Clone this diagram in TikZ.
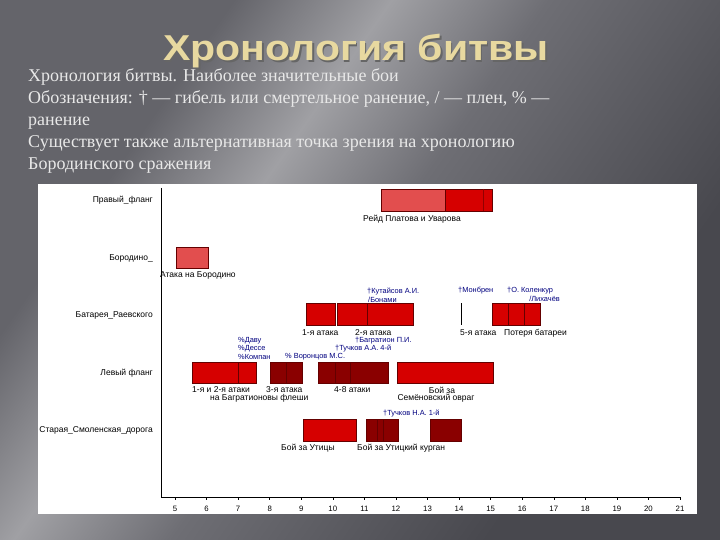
\documentclass[tikz,border=0pt]{standalone}
\usepackage{fontspec}
\setmainfont{Liberation Serif}
\setsansfont{Liberation Sans}
\usepackage{xcolor}
\usepackage{graphicx}
\usetikzlibrary{positioning}

\definecolor{barred}{RGB}{214,0,0}
\definecolor{barlight}{RGB}{226,78,78}
\definecolor{bardark}{RGB}{138,0,0}
\definecolor{baredge}{RGB}{100,0,0}
\definecolor{notecol}{RGB}{0,0,128}
\definecolor{titlegold}{RGB}{232,217,160}
\definecolor{bgA}{RGB}{100,100,106}
\definecolor{bgB}{RGB}{160,160,164}
\definecolor{bgC}{RGB}{110,110,116}
\definecolor{bgD}{RGB}{72,72,78}
\definecolor{headtext}{RGB}{232,232,232}

\pgfdeclarehorizontalshading{slidebg}{100bp}{color(0bp)=(bgA); color(30bp)=(bgA); color(40bp)=(bgB); color(50bp)=(bgC); color(70bp)=(bgD); color(100bp)=(bgD)}

\tikzset{
  barbase/.style={draw=baredge, line width=0.4pt},
  redbar/.style={barbase, fill=barred},
  lightbar/.style={barbase, fill=barlight},
  darkbar/.style={barbase, fill=bardark},
  chartlbl/.style={font=\sffamily\fontsize{8.5}{9.5}\selectfont, inner sep=0pt},
  rowlbl/.style={chartlbl, anchor=east},
  barlbl/.style={chartlbl, anchor=west},
  notelbl/.style={font=\sffamily\fontsize{7.4}{8.5}\selectfont, inner sep=0pt, text=notecol, anchor=west},
  ticklbl/.style={font=\sffamily\fontsize{7.8}{8.5}\selectfont, inner sep=0pt},
  headline/.style={font=\fontsize{18}{21}\selectfont, text=headtext, anchor=base west, inner sep=0pt},
  titletext/.style={font=\sffamily\bfseries\fontsize{36}{40}\selectfont, anchor=base west, inner sep=0pt},
}

\begin{document}
\begin{tikzpicture}[x=1pt, y=-1pt]
    \useasboundingbox (0,0) rectangle (720,540);
    \shade[shading=slidebg, shading angle=-35] (0,0) rectangle (720,540);
    \fill[white] (38,184) rectangle (697,514);

    \node[titletext, text=black!60] (titleshadow) at (164.5,62.5) {\scalebox{1.14}[1]{Хронология битвы}};
    \node[titletext, text=titlegold] (title) at (163,61) {\scalebox{1.14}[1]{Хронология битвы}};
    \node[headline] (h1) at (28,82) {Хронология битвы. Наиболее значительные бои};
    \node[headline] (h2) at (28,104) {Обозначения: † — гибель или смертельное ранение, / — плен, \% —};
    \node[headline] (h3) at (28,126) {ранение};
    \node[headline] (h4) at (28,148) {Существует также альтернативная точка зрения на хронологию};
    \node[headline] (h5) at (28,170) {Бородинского сражения};

    \coordinate (ytop) at (161,188);
    \coordinate (origin) at (161,497);
    \coordinate (xend) at (680,497);
    \draw[line width=0.8pt] (ytop) -- (origin) -- (xend);
    \foreach \h in {5,...,21} {
        \coordinate (tk\h) at ({175+31.5625*(\h-5)},497);
        \draw (tk\h) -- ++(0,3);
        \node[ticklbl] (tl\h) at ({175+31.5625*(\h-5)},509) {\h};
    }

    \node[rowlbl] (rowright) at (153,200) {Правый\_фланг};
    \node[rowlbl] (rowborodino) at (153,258) {Бородино\_};
    \node[rowlbl] (rowbattery) at (153,315) {Батарея\_Раевского};
    \node[rowlbl] (rowleft) at (153,373) {Левый фланг};
    \node[rowlbl] (rowroad) at (153,430) {Старая\_Смоленская\_дорога};

    \draw[lightbar] (381,189) rectangle (445,211);
    \draw[redbar] (445,189) rectangle (492,211);
    \draw[baredge!60!barred] (483,189) -- (483,211);
    \node[chartlbl] (raid) at (412,219) {Рейд Платова и Уварова};

    \draw[lightbar] (176,247) rectangle (208,268);
    \node[barlbl] (attackbor) at (160,275) {Атака на Бородино};

    \draw[redbar] (306,303) rectangle (335,325);
    \draw[redbar] (337,303) rectangle (367,325);
    \draw[redbar] (367,303) rectangle (413,325);
    \draw[line width=0.6pt] (461,303) -- (461,325);
    \draw[redbar] (492,303) rectangle (508,325);
    \draw[redbar] (508,303) rectangle (524,325);
    \draw[redbar] (524,303) rectangle (540,325);
    \node[notelbl] (kutaisov) at (367,292) {†Кутайсов А.И.};
    \node[notelbl] (bonami) at (368,300) {/Бонами};
    \node[notelbl] (monbrun) at (458,291) {†Монбрен};
    \node[notelbl] (caulaincourt) at (507,291) {†О. Коленкур};
    \node[notelbl, anchor=east] (likhachev) at (560,299) {/Лихачёв};
    \node[barlbl] (att1) at (302,333) {1-я атака};
    \node[barlbl] (att2) at (355,333) {2-я атака};
    \node[barlbl] (att5) at (460,333) {5-я атака};
    \node[barlbl] (lossbat) at (504,333) {Потеря батареи};

    \draw[redbar] (192,362) rectangle (238,383);
    \draw[redbar] (238,362) rectangle (256,383);
    \draw[darkbar] (270,362) rectangle (286,383);
    \draw[darkbar] (286,362) rectangle (302,383);
    \draw[darkbar] (318,362) rectangle (335,383);
    \draw[darkbar] (335,362) rectangle (350,383);
    \draw[darkbar] (350,362) rectangle (388,383);
    \draw[redbar] (397,362) rectangle (493,383);
    \node[notelbl] (davout) at (238,341) {\%Даву};
    \node[notelbl] (dessaix) at (238,349) {\%Дессе};
    \node[notelbl] (compans) at (238,357) {\%Компан};
    \node[notelbl] (vorontsov) at (285,357) {\% Воронцов М.С.};
    \node[notelbl] (bagration) at (355,341) {†Багратион П.И.};
    \node[notelbl] (tuchkov4) at (335,349) {†Тучков А.А. 4-й};
    \node[barlbl] (att12) at (192,390) {1-я и 2-я атаки};
    \node[barlbl] (fleches) at (210,398) {на Багратионовы флеши};
    \node[barlbl] (att3) at (266,390) {3-я атака};
    \node[barlbl] (att48) at (334,390) {4-8 атаки};
    \node[chartlbl] (boiza) at (442,390) {Бой за};
    \node[chartlbl] (ravine) at (436,398) {Семёновский овраг};

    \draw[redbar] (303,419) rectangle (356,441);
    \draw[darkbar] (366,419) rectangle (377,441);
    \draw[darkbar] (377,419) rectangle (383,441);
    \draw[darkbar] (383,419) rectangle (398,441);
    \draw[darkbar] (430,419) rectangle (461,441);
    \node[notelbl] (tuchkov1) at (383,414) {†Тучков Н.А. 1-й};
    \node[barlbl] (utitsa) at (281,448) {Бой за Утицы};
    \node[barlbl] (kurgan) at (357,448) {Бой за Утицкий курган};
\end{tikzpicture}
\end{document}
